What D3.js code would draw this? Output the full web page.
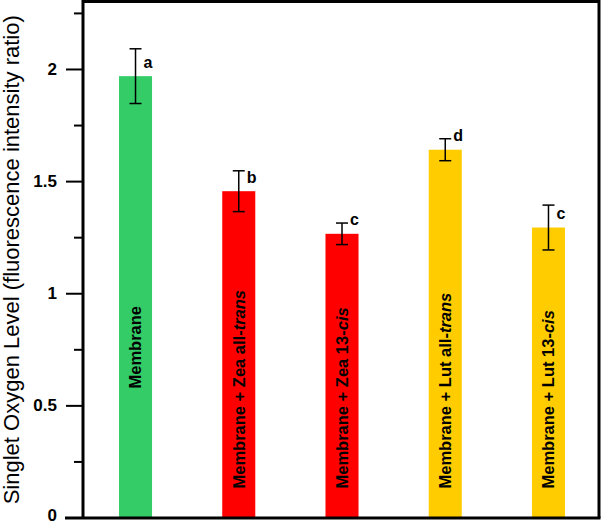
<!DOCTYPE html>
<meta charset="utf-8">
<script src="https://d3js.org/d3.v7.min.js"></script>
<style>
body { margin: 0; background: #fff; }
text { font-family: "Liberation Sans", Arial, sans-serif; }
</style>
<body>
<script>
// data
var samples = ["Membrane", "Membrane + Zea all-trans", "Membrane + Zea 13-cis",
               "Membrane + Lut all-trans", "Membrane + Lut 13-cis"];
var labelMain = ["Membrane", "Membrane + Zea all-", "Membrane + Zea 13-",
                 "Membrane + Lut all-", "Membrane + Lut 13-"];
var labelItalic = ["", "trans", "cis", "trans", "cis"];
var means = [1.968, 1.455, 1.265, 1.640, 1.293];
var errors = [0.122, 0.091, 0.048, 0.049, 0.100];
var letters = ["a", "b", "c", "d", "c"];
var colors = ["#33cc66", "#ff0000", "#ff0000", "#ffcc00", "#ffcc00"];
var majorTicks = [0, 0.5, 1, 1.5, 2];
var minorTicks = [0.25, 0.75, 1.25, 1.75, 2.25];

var W = 602, H = 525;
var m = {left: 83, right: 599, top: 1.5, bottom: 518};

var svg = d3.select("body").append("svg")
    .attr("width", W)
    .attr("height", H);

var x = d3.scaleBand()
    .domain(samples)
    .range([m.left + 1, m.right + 1])
    .paddingInner(0.68)
    .paddingOuter(0.339);

var y = d3.scaleLinear()
    .domain([0, 2.3])
    .range([517.5, 1.7]);

// bars
svg.selectAll(".bar")
    .data(samples)
    .enter().append("rect")
    .attr("class", "bar")
    .attr("x", function(d) { return x(d); })
    .attr("width", x.bandwidth())
    .attr("y", function(d, i) { return y(means[i]); })
    .attr("height", function(d, i) { return y(0) - y(means[i]); })
    .attr("fill", function(d, i) { return colors[i]; });

// labels inside the bars
var lab = svg.selectAll(".blabel")
    .data(samples)
    .enter().append("text")
    .attr("class", "blabel")
    .attr("transform", function(d, i) {
        var cx = x(d) + x.bandwidth() / 2;
        var yy = i === 0 ? y(0) - 129 : y(0) - 29;
        return "translate(" + cx + "," + yy + ") rotate(-90)";
    })
    .attr("dy", "0.36em")
    .attr("font-size", "16.5px")
    .attr("font-weight", "bold")
    .attr("fill", "#000");
lab.append("tspan").text(function(d, i) { return labelMain[i]; });
lab.append("tspan")
    .attr("font-style", "italic")
    .text(function(d, i) { return labelItalic[i]; });

// error bars
var eb = svg.selectAll(".err")
    .data(samples)
    .enter().append("g")
    .attr("class", "err")
    .attr("stroke", "#000")
    .attr("stroke-width", 1.5);
eb.append("line")
    .attr("x1", function(d) { return x(d) + x.bandwidth() / 2; })
    .attr("x2", function(d) { return x(d) + x.bandwidth() / 2; })
    .attr("y1", function(d, i) { return y(means[i] + errors[i]); })
    .attr("y2", function(d, i) { return y(means[i] - errors[i]); });
eb.selectAll(".cap")
    .data(function(d, i) { return [[d, means[i] + errors[i]], [d, means[i] - errors[i]]]; })
    .enter().append("line")
    .attr("class", "cap")
    .attr("x1", function(p) { return x(p[0]) + x.bandwidth() / 2 - 6; })
    .attr("x2", function(p) { return x(p[0]) + x.bandwidth() / 2 + 6; })
    .attr("y1", function(p) { return y(p[1]); })
    .attr("y2", function(p) { return y(p[1]); });

// significance letters
svg.selectAll(".letter")
    .data(samples)
    .enter().append("text")
    .attr("class", "letter")
    .attr("x", function(d) { return x(d) + x.bandwidth() / 2 + 8; })
    .attr("y", function(d, i) { return y(means[i]) - 8.5; })
    .attr("font-size", "16px")
    .attr("font-weight", "bold")
    .text(function(d, i) { return letters[i]; });

// y axis with major and minor ticks
var yAxis = svg.append("g")
    .attr("transform", "translate(" + m.left + ",0)")
    .call(d3.axisLeft(y).tickValues(majorTicks).tickSize(17).tickPadding(9)
        .tickFormat(function(d) { return d; }));
yAxis.select(".domain").remove();
yAxis.selectAll("line").attr("stroke-width", 2);
yAxis.selectAll("text")
    .attr("font-size", "17px")
    .attr("font-weight", "bold")
    .attr("fill", "#000")
    .attr("dy", function(d) { return d === 0 ? "0.18em" : "0.32em"; })
    .attr("font-family", "Liberation Sans, Arial, sans-serif");
var yMinor = svg.append("g")
    .attr("transform", "translate(" + m.left + ",0)")
    .call(d3.axisLeft(y).tickValues(minorTicks).tickSize(9).tickFormat(""));
yMinor.select(".domain").remove();
yMinor.selectAll("line").attr("stroke-width", 2);

// frame
svg.append("path")
    .attr("d", "M" + m.left + "," + m.bottom + "V" + m.top + "H" + m.right + "V" + m.bottom)
    .attr("fill", "none")
    .attr("stroke", "#000")
    .attr("stroke-width", 3);
svg.append("line")
    .attr("x1", 65).attr("x2", m.right + 1.5)
    .attr("y1", m.bottom).attr("y2", m.bottom)
    .attr("stroke", "#000")
    .attr("stroke-width", 3);

// y axis title
svg.append("text")
    .attr("transform", "translate(18.5," + ((m.top + m.bottom) / 2) + ") rotate(-90)")
    .attr("text-anchor", "middle")
    .attr("font-size", "22px")
    .text("Singlet Oxygen Level (fluorescence intensity ratio)");
</script>
</body>
